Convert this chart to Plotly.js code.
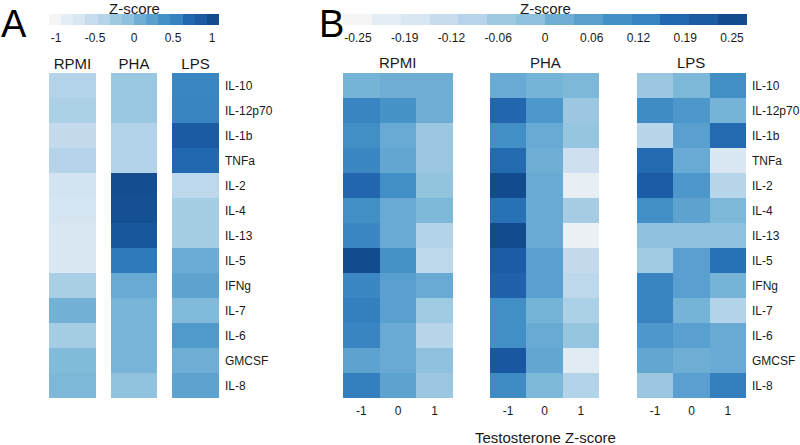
<!DOCTYPE html>
<html>
<head>
<meta charset="utf-8">
<script src="https://cdn.plot.ly/plotly-3.0.1.min.js"></script>
<style>html,body{margin:0;padding:0;background:#fff;}#chart{width:800px;height:445px;}</style>
</head>
<body>
<div id="chart"></div>
<script>
// ---------- data ----------
const cytokines = ['IL-10','IL-12p70','IL-1b','TNFa','IL-2','IL-4','IL-13','IL-5','IFNg','IL-7','IL-6','GMCSF','IL-8'];
const conditions = ['RPMI','PHA','LPS'];
const testoLevels = [-1, 0, 1];
const testoTickText = ['-1','0','1'];

// Panel A: Z-score per condition
const panelA_RPMI = [-0.37,-0.32,-0.52,-0.38,-0.65,-0.67,-0.72,-0.72,-0.30,0.05,-0.28,-0.03,0.00];
const panelA_PHA  = [-0.20,-0.20,-0.35,-0.35,1.00,0.97,0.90,0.60,0.12,0.03,0.03,0.03,-0.12];
const panelA_LPS  = [0.50,0.52,0.85,0.70,-0.45,-0.28,-0.28,0.10,0.20,-0.02,0.30,0.08,0.20];

// Panel B: rows = cytokines, columns = testosterone z-score -1, 0, 1
const panelB_RPMI = [
  [0.01,0.02,0.02],
  [0.13,0.09,0.02],
  [0.10,0.03,-0.05],
  [0.12,0.04,-0.05],
  [0.18,0.10,-0.03],
  [0.10,0.03,0.00],
  [0.12,0.03,-0.09],
  [0.25,0.09,-0.11],
  [0.12,0.06,0.03],
  [0.14,0.06,-0.06],
  [0.13,0.03,-0.10],
  [0.05,0.03,-0.02],
  [0.14,0.05,-0.05]
];
const panelB_PHA = [
  [0.03,0.01,0.00],
  [0.18,0.08,-0.05],
  [0.10,0.03,-0.04],
  [0.17,0.02,-0.15],
  [0.25,0.03,-0.22],
  [0.16,0.03,-0.07],
  [0.26,0.03,-0.23],
  [0.21,0.06,-0.13],
  [0.19,0.06,-0.11],
  [0.10,0.01,-0.08],
  [0.10,0.03,-0.04],
  [0.22,0.04,-0.20],
  [0.11,0.00,-0.09]
];
const panelB_LPS = [
  [-0.05,0.00,0.10],
  [0.11,0.08,0.01],
  [-0.10,0.06,0.17],
  [0.17,0.03,-0.18],
  [0.21,0.08,-0.10],
  [0.10,0.05,0.00],
  [-0.02,-0.02,-0.02],
  [-0.06,0.06,0.16],
  [0.13,0.06,0.01],
  [0.13,0.01,-0.09],
  [0.08,0.06,0.03],
  [0.04,0.02,0.03],
  [-0.05,0.06,0.14]
];

const cbA_ticks = [-1,-0.5,0,0.5,1];
const cbA_text = ['-1','-0.5','0','0.5','1'];
const cbB_ticks = [-0.25,-0.1875,-0.125,-0.0625,0,0.0625,0.125,0.1875,0.25];
const cbB_text = ['-0.25','-0.19','-0.12','-0.06','0','0.06','0.12','0.19','0.25'];

const blues = ['#f5f5f5','#e3edf5','#d8e7f2','#c7dcee','#b7d5ea','#9ecae1','#8dc1dd',
               '#6eaed5','#5aa0cf','#4390c6','#3782c0','#2268b0','#1a5ba4','#134c8e'];

// ---------- colorscales ----------
const n = blues.length;
const smoothScale = [[0, blues[0]]];
blues.forEach((c,i)=>smoothScale.push([(i+0.5)/n, c]));
smoothScale.push([1, blues[n-1]]);
const stepScale = [];
blues.forEach((c,i)=>{ stepScale.push([i/n, c]); stepScale.push([(i+1)/n, c]); });

const zA = [-1.09, 1.09];
const zB = [-0.27, 0.27];

const FONT = 'Liberation Sans, Arial, Helvetica, sans-serif';
const TXT = '#1a1a1a';

const traces = [];
const A_vals = [panelA_RPMI, panelA_PHA, panelA_LPS];
A_vals.forEach((vals, i) => {
  traces.push({
    type:'heatmap', x:[conditions[i]], y:cytokines, z:vals.map(v=>[v]),
    xaxis: i===0 ? 'x' : 'x'+(i+1), yaxis:'y',
    colorscale: smoothScale, zmin:zA[0], zmax:zA[1], showscale:false, hoverinfo:'skip'
  });
});
const B_vals = [panelB_RPMI, panelB_PHA, panelB_LPS];
B_vals.forEach((vals, i) => {
  traces.push({
    type:'heatmap', x:testoLevels, y:cytokines, z:vals,
    xaxis:'x'+(i+4), yaxis:'y2',
    colorscale: smoothScale, zmin:zB[0], zmax:zB[1], showscale:false, hoverinfo:'skip'
  });
});
// colorbar carriers (drawn outside their axis range)
function cbTrace(ax, zr, xc, len, tv, tt){
  return {
    type:'heatmap', z:[[zr[0], zr[1]]], x:[0,1], y:[0],
    xaxis:'x'+ax, yaxis:'y'+ax, colorscale: stepScale, zmin:zr[0], zmax:zr[1],
    hoverinfo:'skip', showscale:true,
    colorbar:{
      orientation:'h', x:xc, xanchor:'center', y:1-14/445, yanchor:'top',
      len:len, lenmode:'fraction', thickness:11, outlinewidth:0,
      xpad:0, ypad:0, ticks:'outside', ticklen:3, tickcolor:'rgba(0,0,0,0)',
      tickvals:tv, ticktext:tt,
      tickfont:{family:FONT, size:12, color:TXT},
      title:{text:''}
    }
  };
}
traces.push(cbTrace(7, zA, 134/800, 170/800, cbA_ticks, cbA_text));
traces.push(cbTrace(8, zB, 545/800, 404/800, cbB_ticks, cbB_text));

const yDom = [(445-398)/445, (445-73)/445];
const px = (a,b)=>[a/800, b/800];

function xA(dom, anchor){
  return {domain:dom, anchor:anchor, side:'top', showgrid:false, zeroline:false, showline:false,
    ticks:'', tickfont:{family:FONT, size:15, color:TXT}, fixedrange:true};
}
function xB(dom){
  return {domain:dom, anchor:'y2', side:'bottom', showgrid:false, zeroline:false, showline:false,
    ticks:'', tickvals:testoLevels, ticktext:testoTickText, range:[-1.5,1.5], ticklabelstandoff:4,
    tickfont:{family:FONT, size:12, color:TXT}, fixedrange:true};
}
const hiddenAx = {domain:[0,0.01], visible:false, range:[100,101], fixedrange:true};
function ann(text, x, y, size, color){
  return {text:text, x:x/800, y:1-y/445, xref:'paper', yref:'paper', showarrow:false,
    font:{family:FONT, size:size, color:color||TXT}, xanchor:'center', yanchor:'middle'};
}

const layout = {
  width:800, height:445, margin:{l:0,r:0,t:0,b:0},
  paper_bgcolor:'#fff', plot_bgcolor:'#fff',
  font:{family:FONT, color:TXT},
  showlegend:false,
  xaxis: xA(px(49,96), 'y'),
  xaxis2: xA(px(111,157), 'y'),
  xaxis3: xA(px(172,219), 'y'),
  yaxis: {domain:yDom, anchor:'x3', side:'right', autorange:'reversed', showgrid:false, zeroline:false,
    showline:false, ticks:'', ticklabelstandoff:5, tickfont:{family:FONT, size:12, color:TXT}, fixedrange:true},
  xaxis4: xB(px(343,453)),
  xaxis5: xB(px(490,599)),
  xaxis6: xB(px(637,746)),
  yaxis2: {domain:yDom, anchor:'x6', side:'right', autorange:'reversed', showgrid:false, zeroline:false,
    showline:false, ticks:'', ticklabelstandoff:5, tickfont:{family:FONT, size:12, color:TXT}, fixedrange:true},
  xaxis7: Object.assign({}, hiddenAx, {anchor:'y7'}),
  yaxis7: Object.assign({}, hiddenAx, {anchor:'x7'}),
  xaxis8: Object.assign({}, hiddenAx, {anchor:'y8'}),
  yaxis8: Object.assign({}, hiddenAx, {anchor:'x8'}),
  annotations: [
    ann('A', 14, 24, 38, '#000'),
    ann('B', 331, 24, 38, '#000'),
    ann('Z-score', 134, 8.5, 15),
    ann('Z-score', 545, 8.5, 15),
    ann(conditions[0], 398, 63, 15),
    ann(conditions[1], 545, 63, 15),
    ann(conditions[2], 691, 63, 15),
    ann('Testosterone Z-score', 545, 437, 15)
  ]
};

Plotly.newPlot('chart', traces, layout, {staticPlot:true, displayModeBar:false});
</script>
</body>
</html>
